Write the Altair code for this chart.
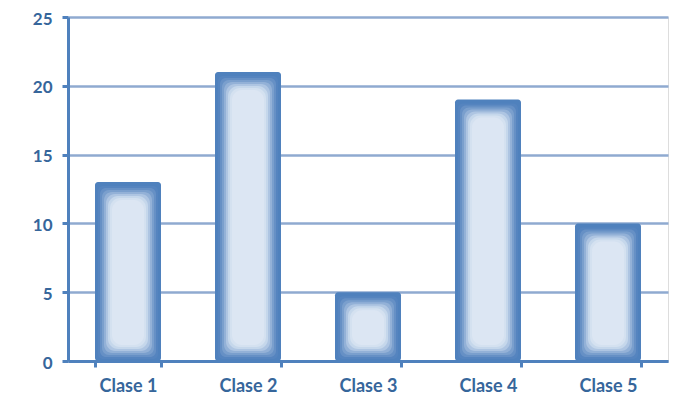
import altair as alt
import pandas as pd

categories = ["Clase 1", "Clase 2", "Clase 3", "Clase 4", "Clase 5"]
values = [13, 21, 5, 19, 10]
y_ticks = [0, 5, 10, 15, 20, 25]

df = pd.DataFrame({"clase": categories, "valor": values})

BLUE = "#4F81BD"
LABEL = "#36669B"

x_enc = alt.X("clase:N", sort=categories, title=None,
              scale=alt.Scale(paddingInner=0.45, paddingOuter=0.225),
              axis=alt.Axis(labelAngle=0, labelFont="Lato", labelFontWeight="bold",
                            labelFontSize=18, labelColor=LABEL, labelPadding=10,
                            domainColor=BLUE, domainWidth=3, tickColor=BLUE,
                            tickWidth=3, tickSize=6, tickBand="extent",
                            grid=False))
y_enc = alt.Y("valor:Q", title=None,
              scale=alt.Scale(domain=[0, 25], nice=False),
              axis=alt.Axis(values=y_ticks, labelFont="Lato", labelFontWeight="bold",
                            labelFontSize=17, labelColor=LABEL, labelPadding=10,
                            labelOffset=2,
                            domainColor=BLUE, domainWidth=3, tickColor=BLUE,
                            tickWidth=3, tickSize=6,
                            grid=True, gridColor="#8FAAD0", gridWidth=2.5))

# (bar width px, top inset px, bottom inset px, colour, corner radius):
# stacked rounded rectangles imitate the soft inner glow of the bars
layers_spec = [
    (66, 0, 0, BLUE, 3),
    (60, 4, 2, "#5584BF", 5),
    (56, 6, 4, "#6690C5", 6),
    (52, 8, 6, "#7A9FCD", 7),
    (48, 10, 8, "#93B1D7", 8),
    (44, 12, 10, "#AEC5E2", 9),
    (40, 14, 12, "#C5D7EB", 10),
    (36, 16, 14, "#D4E1F0", 10),
    (32, 18, 16, "#DCE6F3", 10),
]

layers = []
for size, top, bottom, color, rad in layers_spec:
    layers.append(
        alt.Chart(df).mark_bar(size=size, color=color, cornerRadius=rad,
                               yOffset=top, y2Offset=-bottom)
        .encode(x=x_enc, y=y_enc, y2=alt.datum(0))
    )

chart = alt.layer(*layers).properties(
    width=600, height=344,
    autosize=alt.AutoSizeParams(type="none"),
    padding={"left": 60, "top": 9, "right": 15, "bottom": 37},
).configure_view(stroke=None).configure(background="white")

chart.save("out.html", embed_options={"renderer": "svg", "actions": False})
